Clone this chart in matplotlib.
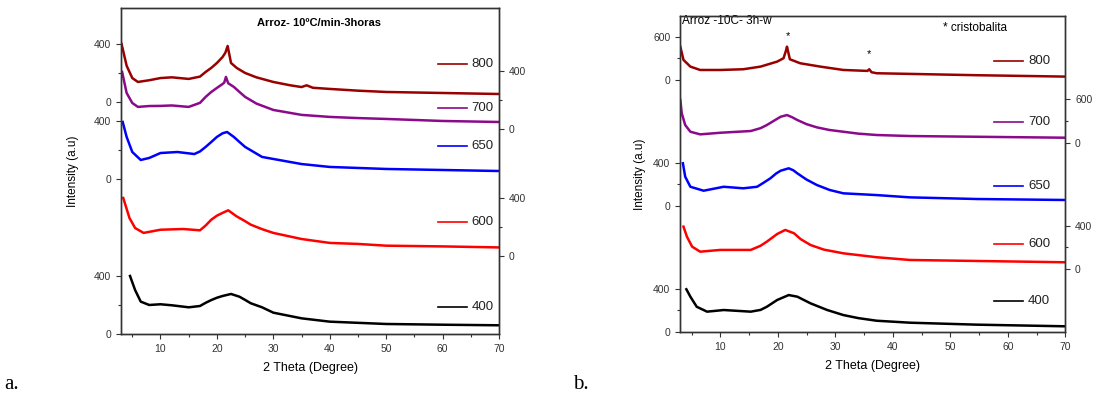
import numpy as np
import matplotlib
matplotlib.use('Agg')
import matplotlib.pyplot as plt
from matplotlib.ticker import FixedLocator

plt.rcParams['font.family'] = ['Liberation Sans', 'DejaVu Sans']

# ---- panel a: Arroz- 10ºC/min-3horas (intensities) ----
a_theta_800 = [3.1, 4, 5, 6, 8, 10, 12, 15, 17, 18, 19, 20, 21, 21.5, 21.9, 22.5, 23.5, 25, 27, 30, 33, 35, 35.9, 37, 40, 45, 50, 60, 70]
a_int_800 = [400, 250, 165, 138, 150, 165, 170, 159, 175, 207, 235, 269, 310, 340, 386, 269, 235, 200, 170, 138, 115, 103, 115, 98, 90, 78, 69, 62, 55]
a_theta_700 = [3.2, 4, 5, 6, 8, 10, 12, 15, 17, 18, 19, 20, 21, 21.3, 21.6, 22, 23, 24, 25, 27, 30, 35, 40, 45, 50, 60, 70]
a_int_700 = [393, 248, 179, 152, 158, 159, 162, 152, 180, 221, 255, 283, 310, 320, 359, 315, 290, 255, 221, 175, 131, 97, 83, 75, 69, 55, 48]
a_theta_650 = [3.3, 4, 5, 6.5, 8, 10, 13, 16, 17, 18, 19, 20, 21, 21.8, 23, 24, 25, 28, 30, 35, 40, 50, 60, 70]
a_int_650 = [393, 290, 186, 131, 145, 179, 186, 172, 190, 221, 255, 290, 315, 324, 290, 255, 221, 152, 138, 103, 83, 69, 62, 55]
a_theta_600 = [3.4, 4.5, 5.5, 7, 10, 14, 17, 18, 19, 20, 21, 22, 23.5, 25, 26, 28, 30, 35, 40, 45, 50, 60, 70]
a_int_600 = [400, 262, 193, 159, 181, 186, 177, 210, 250, 278, 297, 315, 273, 240, 216, 185, 159, 117, 90, 83, 71, 66, 59]
a_theta_400 = [4.6, 5.5, 6.5, 8, 10, 12, 15, 17, 18, 19, 20, 21, 22.5, 24, 25, 26, 28, 30, 35, 40, 50, 60, 70]
a_int_400 = [400, 303, 223, 200, 205, 198, 184, 193, 215, 234, 250, 262, 276, 257, 235, 212, 184, 147, 108, 85, 69, 64, 60]

# ---- panel b: Arroz -10C- 3h-w ----
b_theta_800 = [3.05, 3.6, 4.8, 6.5, 10, 14, 17, 19.9, 21, 21.4, 21.6, 22.1, 23.9, 27.4, 31.4, 35.6, 35.9, 36.3, 37.2, 43, 54.6, 70]
b_int_800 = [461, 279, 187, 141, 141, 151, 187, 256, 302, 400, 461, 288, 233, 187, 141, 128, 151, 110, 96, 87, 69, 50]
b_theta_700 = [3.05, 3.3, 3.9, 4.8, 6.5, 10, 15.3, 17, 18.1, 19.5, 20.5, 21.6, 22.5, 23.4, 25, 26.8, 29, 31.4, 34, 37.2, 43, 54.6, 70]
b_int_700 = [586, 404, 243, 151, 115, 137, 161, 200, 243, 310, 357, 380, 350, 312, 255, 211, 175, 151, 125, 106, 92, 82, 69]
b_theta_650 = [3.5, 3.9, 4.8, 7.1, 10.6, 14, 16.4, 17.5, 18.7, 19.7, 20.5, 21.9, 22.7, 23.4, 25, 26.8, 29, 31.4, 37.2, 43, 54.6, 70]
b_int_650 = [394, 271, 179, 143, 179, 165, 179, 215, 256, 300, 326, 348, 330, 302, 245, 195, 150, 119, 103, 82, 67, 58]
b_theta_600 = [3.6, 4.2, 5.1, 6.5, 10, 15.3, 17, 18.1, 19.9, 21.3, 22.8, 24, 25.7, 28, 31.4, 37.2, 43, 54.6, 70]
b_int_600 = [390, 298, 207, 161, 177, 177, 215, 253, 323, 360, 330, 275, 222, 180, 146, 110, 85, 76, 64]
b_theta_400 = [4.1, 4.8, 5.9, 7.7, 10.6, 15.3, 17, 18.1, 19.9, 21.9, 23.4, 25.7, 28.6, 31.4, 34, 37.2, 43, 54.6, 70]
b_int_400 = [394, 326, 234, 189, 204, 189, 205, 234, 296, 341, 326, 265, 204, 158, 130, 106, 88, 70, 55]

labels = ['800', '700', '650', '600', '400']
colors = ['#990000', '#8b0a8b', '#0000ff', '#ff0000', '#000000']

# stacking: (offset, scale, side of its y axis, tick top value)
a_series = [(a_theta_800, a_int_800), (a_theta_700, a_int_700), (a_theta_650, a_int_650),
            (a_theta_600, a_int_600), (a_theta_400, a_int_400)]
a_stack = [(1600, 1.0, 'left', 400), (1414, 1.0, 'right', 400), (1069, 1.0, 'left', 400),
           (538, 1.0, 'right', 400), (0, 1.0, 'left', 400)]
b_series = [(b_theta_800, b_int_800), (b_theta_700, b_int_700), (b_theta_650, b_int_650),
            (b_theta_600, b_int_600), (b_theta_400, b_int_400)]
b_stack = [(2307, 400 / 600, 'left', 600), (1735, 400 / 600, 'right', 600), (1153, 1.0, 'left', 400),
           (577, 1.0, 'right', 400), (0, 1.0, 'left', 400)]

fig = plt.figure(figsize=(10.97, 4.09), dpi=100)


def panel(rect, series, stack, ytop, leg_y, leg_x, ylabelpad):
    ax = fig.add_axes(rect)
    for (th, inten), (off, sc, side, top), c in zip(series, stack, colors):
        ax.plot(th, np.array(inten) * sc + off, color=c, lw=1.8)
    ax.set_xlim(3, 70)
    ax.set_ylim(0, ytop)
    ax.set_xticks([10, 20, 30, 40, 50, 60, 70])
    ax.xaxis.set_minor_locator(FixedLocator([5, 15, 25, 35, 45, 55, 65]))

    axr = ax.twinx()
    axr.set_ylim(0, ytop)
    for a, side in ((ax, 'left'), (axr, 'right')):
        pos, lab, minor = [], [], []
        for off, sc, s, top in stack:
            if s == side:
                pos += [off, off + top * sc]
                lab += ['0', str(top)]
                minor.append(off + top * sc / 2)
        a.set_yticks(pos)
        a.set_yticklabels(lab)
        a.yaxis.set_minor_locator(FixedLocator(minor))
    for a in (ax, axr):
        a.tick_params(which='both', direction='out', labelsize=7.5, colors='#333333', width=0.8)
        a.tick_params(which='major', length=3.5)
        a.tick_params(which='minor', length=2)
        for sp in a.spines.values():
            sp.set_color('#333333')
            sp.set_linewidth(1.0)
    ax.set_xlabel('2 Theta (Degree)', fontsize=9, labelpad=6)
    ax.set_ylabel('Intensity (a.u)', fontsize=8.5, labelpad=ylabelpad)

    for lab, c, y in zip(labels, colors, leg_y):
        ax.plot([leg_x, leg_x + 0.076], [y, y], color=c, lw=1.2, transform=ax.transAxes)
        ax.text(leg_x + 0.088, y, lab, fontsize=9.5, va='center', color='#222222', transform=ax.transAxes)
    return ax


ax1 = panel([0.1103, 0.1834, 0.3446, 0.797], a_series, a_stack, 2248,
            [0.828, 0.693, 0.577, 0.344, 0.083], 0.839, 11)
ax1.text(0.524, 0.954, 'Arroz- 10ºC/min-3horas', fontsize=8, fontweight='bold',
         ha='center', va='center', transform=ax1.transAxes)

ax2 = panel([0.6199, 0.1875, 0.3512, 0.7734], b_series, b_stack, 2895,
            [0.858, 0.665, 0.463, 0.279, 0.099], 0.815, 5)
ax2.text(0.004, 0.985, 'Arroz -10C- 3h-w', fontsize=8.5, ha='left', va='center',
         transform=ax2.transAxes)
ax2.text(0.683, 0.962, '* cristobalita', fontsize=8.5, ha='left', va='center',
         transform=ax2.transAxes)
ax2.text(21.7, 2712, '*', fontsize=8, ha='center', va='center')
ax2.text(35.9, 2547, '*', fontsize=8, ha='center', va='center')

fig.text(0.004, 0.06, 'a.', fontsize=15, family='Liberation Serif', va='center')
fig.text(0.522, 0.06, 'b.', fontsize=15, family='Liberation Serif', va='center')

fig.savefig('out.png', dpi=100)
